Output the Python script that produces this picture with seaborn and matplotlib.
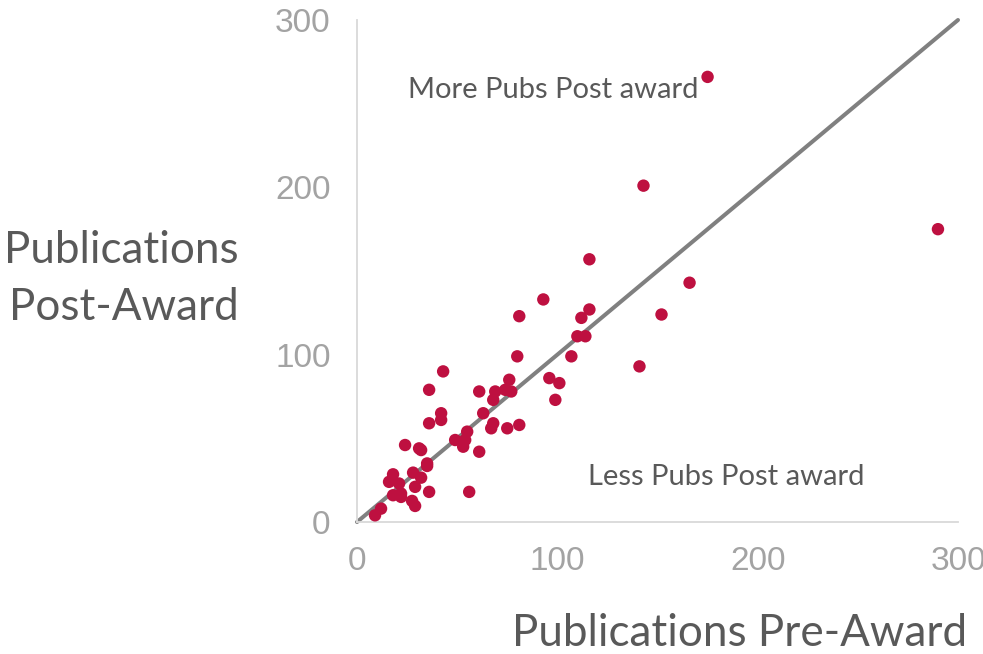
import matplotlib
matplotlib.use("Agg")
import matplotlib.pyplot as plt
import seaborn as sns
import pandas as pd

pre_award = [110, 114, 80, 107, 43, 96, 101, 76, 36, 61, 69, 74, 77, 68, 99,
             42, 42, 36, 63, 68, 67, 75, 81, 55, 49, 54, 53, 61, 24, 31, 32,
             35, 35, 18, 16, 21, 28, 32, 29, 22, 18, 22, 36, 56, 27.5, 29, 12, 9,
             175, 143, 290, 116, 93, 166, 81, 116, 112, 152, 141]
post_award = [111, 111, 99, 99, 90, 86, 83, 85, 79, 78, 78, 79, 78, 73, 73,
              65, 61, 59, 65, 59, 56, 56, 58, 54, 49, 49, 45, 42, 46, 44, 43,
              35, 33.5, 28.5, 24, 23, 29.5, 26.5, 21, 17, 16, 15, 18, 18, 12.6, 9.6, 8, 4,
              266, 201, 175, 157, 133, 143, 123, 127, 122, 124, 93]
diag_x = [0, 300]
diag_y = [0, 300]
x_ticks = [0, 100, 200, 300]
y_ticks = [0, 100, 200, 300]

df = pd.DataFrame({"pre": pre_award, "post": post_award})
diag = pd.DataFrame({"x": diag_x, "y": diag_y})

sns.set_theme(style="white")
plt.rcParams["font.family"] = ["Liberation Sans", "DejaVu Sans"]

fig = plt.figure(figsize=(9.83, 6.54), dpi=100)
ax = fig.add_axes([357/983, 1 - 522/654, 601/983, 502/654])

sns.lineplot(data=diag, x="x", y="y", ax=ax, color="#808080", linewidth=2.9,
             clip_on=False, zorder=2)
sns.scatterplot(data=df, x="pre", y="post", ax=ax, color="#BE1040", s=80,
                edgecolor="none", zorder=3, clip_on=False)

ax.set_xlim(0, 300)
ax.set_ylim(0, 300)
ax.set_xticks(x_ticks)
ax.set_yticks(y_ticks)
ax.set_xticklabels([str(t) for t in x_ticks])
ax.set_yticklabels([str(t) for t in y_ticks])
ax.tick_params(axis="both", length=0, labelsize=24, labelcolor="#a3a3a3")
ax.tick_params(axis="x", pad=17)
ax.tick_params(axis="y", pad=19)
ax.set_xlabel("")
ax.set_ylabel("")
for s in ["top", "right"]:
    ax.spines[s].set_visible(False)
for s in ["left", "bottom"]:
    ax.spines[s].set_color("#d9d9d9")
    ax.spines[s].set_linewidth(1.3)

lab_font = ["Lato", "DejaVu Sans"]
ax.text(0.085, 0.86, "More Pubs Post award", transform=ax.transAxes,
        fontsize=21, color="#595959", family=lab_font, va="center")
ax.text(0.385, 0.09, "Less Pubs Post award", transform=ax.transAxes,
        fontsize=21, color="#595959", family=lab_font, va="center")

fig.text(740/983, 1 - 633/654, "Publications Pre-Award", ha="center", va="center",
         fontsize=31.7, color="#595959", family=lab_font)
fig.text(121/983, 1 - 279/654, "Publications\nPost-Award", ha="center", va="center",
         fontsize=31.7, color="#595959", family=lab_font,
         multialignment="right", linespacing=1.5)

fig.savefig("out.png", dpi=100, facecolor="white")
